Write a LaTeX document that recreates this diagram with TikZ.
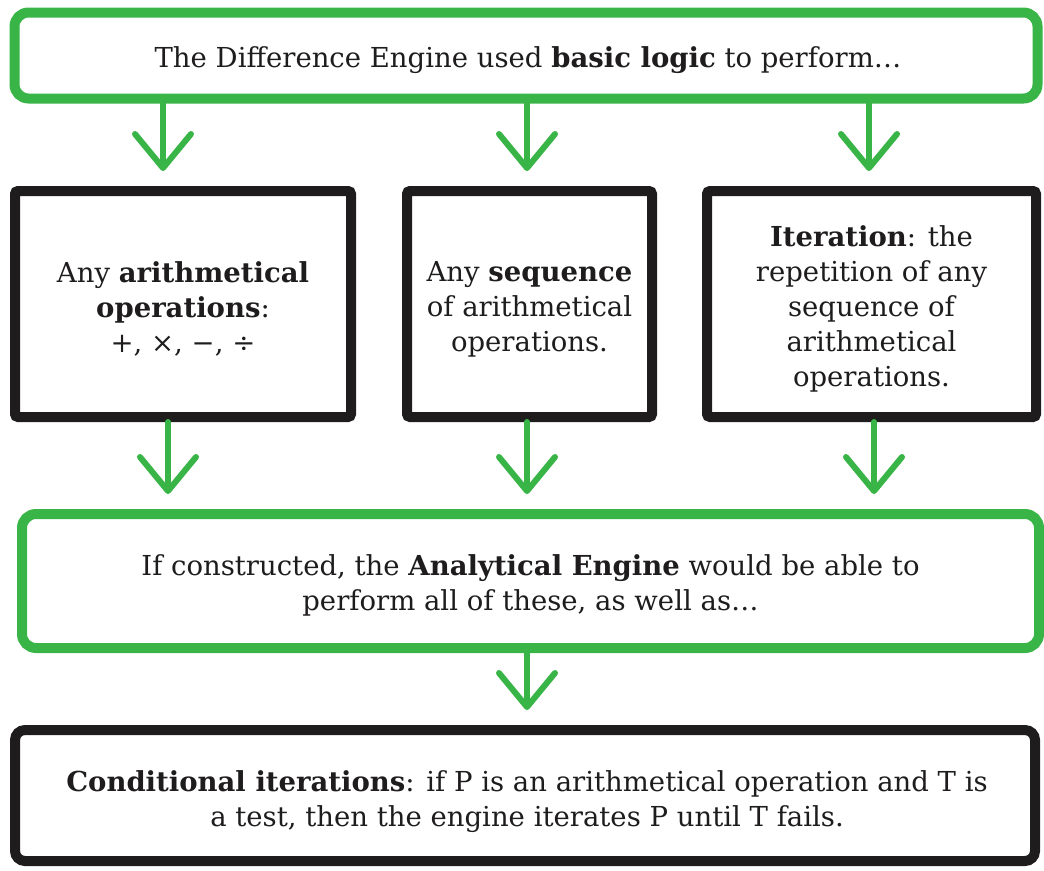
\documentclass[tikz,border=0pt]{standalone}
\usepackage{fontspec}
\setmainfont{DejaVu Serif}
\usetikzlibrary{arrows.meta}
\definecolor{brushgreen}{RGB}{56,181,70}
\definecolor{ink}{RGB}{30,28,28}
\begin{document}
\begin{tikzpicture}[x=1pt,y=-1pt,
  greenbox/.style={draw=brushgreen,line width=10pt,rounded corners=14pt,inner sep=0pt},
  blackbox/.style={draw=ink,line width=10pt,rounded corners=3pt,inner sep=0pt},
  arr/.style={draw=brushgreen,line width=6pt,line cap=round,-{Straight Barb[length=34pt,width=56pt,round]},shorten >=15pt},
  txt/.style={font=\fontsize{27.5}{35}\selectfont,align=center,text=ink,inner sep=0pt}]
\useasboundingbox (0,0) rectangle (1044,870);
% boxes
\node[greenbox,minimum width=1023pt,minimum height=86pt] (top) at (526,55.5) {};
\node[blackbox,minimum width=336pt,minimum height=226pt] (b1) at (183,304) {};
\node[blackbox,minimum width=245pt,minimum height=226pt] (b2) at (529.5,304) {};
\node[blackbox,minimum width=329pt,minimum height=226pt] (b3) at (871.5,304) {};
\node[greenbox,minimum width=1017pt,minimum height=134pt] (mid) at (530.5,581) {};
\node[blackbox,rounded corners=10pt,minimum width=1020pt,minimum height=131pt] (bot) at (525,795.5) {};
% texts
\node[txt] (ttop) at ([xshift=2pt,yshift=-5pt]top.center)
  {The Difference Engine used \textbf{basic logic} to perform\ldots};
\node[txt] (tb1) at ([yshift=-5pt]b1.center)
  {Any \textbf{arithmetical}\\\textbf{operations}:\\+, ×, −, ÷};
\node[txt] (tb2) at ([yshift=-5pt]b2.center)
  {Any \textbf{sequence}\\of arithmetical\\operations.};
\node[txt] (tb3) at ([yshift=-5pt]b3.center)
  {\textbf{Iteration}: the\\repetition of any\\sequence of\\arithmetical\\operations.};
\node[txt] (tmid) at ([yshift=-4pt]mid.center)
  {If constructed, the \textbf{Analytical Engine} would be able to\\perform all of these, as well as\ldots};
\node[txt] (tbot) at ([xshift=2pt,yshift=-6pt]bot.center)
  {\textbf{Conditional iterations}: if P is an arithmetical operation and T is\\a test, then the engine iterates P until T fails.};
% connectors
\draw[arr] ([xshift=-20pt]b1.north |- top.south) -- ([xshift=-20pt]b1.north);
\draw[arr] ([xshift=-2.5pt]b2.north |- top.south) -- ([xshift=-2.5pt]b2.north);
\draw[arr] ([xshift=-2.5pt]b3.north |- top.south) -- ([xshift=-2.5pt]b3.north);
\draw[arr] ([xshift=-15pt]b1.south) -- ([xshift=-15pt]b1.south |- mid.north);
\draw[arr] ([xshift=-2.5pt]b2.south) -- ([xshift=-2.5pt]b2.south |- mid.north);
\draw[arr] ([xshift=2.5pt]b3.south) -- ([xshift=2.5pt]b3.south |- mid.north);
\draw[arr] ([xshift=-3.5pt]mid.south) -- ([xshift=-3.5pt]mid.south |- bot.north);
\end{tikzpicture}
\end{document}
